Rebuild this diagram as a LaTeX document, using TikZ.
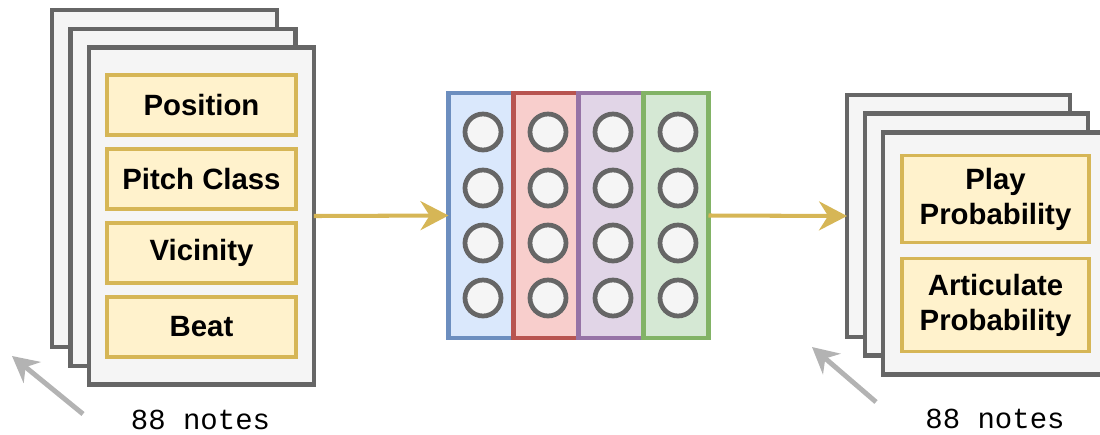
\documentclass[tikz,border=0pt]{standalone}
\usepackage{fontspec}
\setsansfont{Liberation Sans}
\setmonofont{Liberation Mono}
\usetikzlibrary{positioning,arrows.meta}

\definecolor{sheetline}{HTML}{666666}
\definecolor{sheetfill}{HTML}{F5F5F5}
\definecolor{featline}{HTML}{D6B656}
\definecolor{featfill}{HTML}{FFF2CC}
\definecolor{blueline}{HTML}{6C8EBF}
\definecolor{bluefill}{HTML}{DAE8FC}
\definecolor{redline}{HTML}{B85450}
\definecolor{redfill}{HTML}{F8CECC}
\definecolor{purpleline}{HTML}{9673A6}
\definecolor{purplefill}{HTML}{E1D5E7}
\definecolor{greenline}{HTML}{82B366}
\definecolor{greenfill}{HTML}{D5E8D4}
\definecolor{hintgray}{HTML}{B3B3B3}

\tikzset{
  sheet/.style={draw=sheetline, fill=sheetfill, line width=2.7pt, inner sep=0pt, outer sep=0pt},
  lsheet/.style={sheet, minimum width=4.5cm, minimum height=6.74cm},
  rsheet/.style={sheet, minimum width=4.46cm, minimum height=4.84cm},
  feat/.style={draw=featline, fill=featfill, line width=2.2pt, outer sep=0pt, align=center,
    font=\sffamily\bfseries\fontsize{16.7}{20}\selectfont},
  layer/.style={draw=#1line, fill=#1fill, line width=2.3pt, outer sep=0pt,
    minimum width=1.3cm, minimum height=4.9cm},
  unit/.style={circle, draw=sheetline, fill=sheetfill, line width=2.7pt, minimum size=0.72cm, inner sep=0pt},
  flow/.style={draw=featline, line width=2.3pt, -{Stealth[length=0.56cm, width=0.58cm]}},
  hint/.style={draw=hintgray, line width=2.8pt, -{Stealth[length=0.52cm, width=0.54cm]}},
  notes/.style={font=\ttfamily\fontsize{16.5}{19}\selectfont}
}

\begin{document}
\begin{tikzpicture}[x=0.02cm, y=-0.02cm]
  \clip (0,0) rectangle (1100,434);

  % input stack
  \foreach \x/\y/\name in {164.5/178.5/lsheetA,183/197.5/lsheetB,201.5/216/lsheetC}{\node[lsheet] (\name) at (\x,\y) {};}
  \node[feat, minimum width=3.78cm, minimum height=1.2cm] (position) at (201.5,105) {Position};
  \node[feat, minimum width=3.78cm, minimum height=1.2cm, below=0.28cm of position] (pitch) {Pitch Class};
  \node[feat, minimum width=3.78cm, minimum height=1.2cm, below=0.28cm of pitch] (vicinity) {Vicinity};
  \node[feat, minimum width=3.78cm, minimum height=1.2cm, below=0.28cm of vicinity] (beat) {Beat};

  % network layers
  \foreach \x/\hue [count=\i] in {481/blue,546/red,611/purple,676/green}{
    \node[layer=\hue] (layer\i) at (\x,215.5) {};
    \foreach \y [count=\j] in {132,188,243,298} \node[unit] (unit\i\j) at (\x+2,\y) {};
  }

  % output stack
  \foreach \x/\y/\name in {958.5/216/rsheetA,976.5/234.5/rsheetB,994.5/253.5/rsheetC}{\node[rsheet] (\name) at (\x,\y) {};}
  \node[feat, minimum width=3.74cm, minimum height=1.74cm] (play) at (995.5,199) {Play\\Probability};
  \node[feat, minimum width=3.74cm, minimum height=1.86cm, below=0.32cm of play] (artic) {Articulate\\Probability};

  \draw[flow] (lsheetC.east) -- (layer1.west);
  \draw[flow] (layer4.east) -- (rsheetA.west);

  % note counts
  \coordinate (ltail) at (83,414);
  \coordinate (ltip) at (12,356);
  \coordinate (rtail) at (876,402);
  \coordinate (rtip) at (812,347);
  \draw[hint] (ltail) -- (ltip);
  \draw[hint] (rtail) -- (rtip);
  \node[notes] (lcount) at (200.5,420) {88 notes};
  \node[notes] (rcount) at (995,419) {88 notes};
\end{tikzpicture}
\end{document}
